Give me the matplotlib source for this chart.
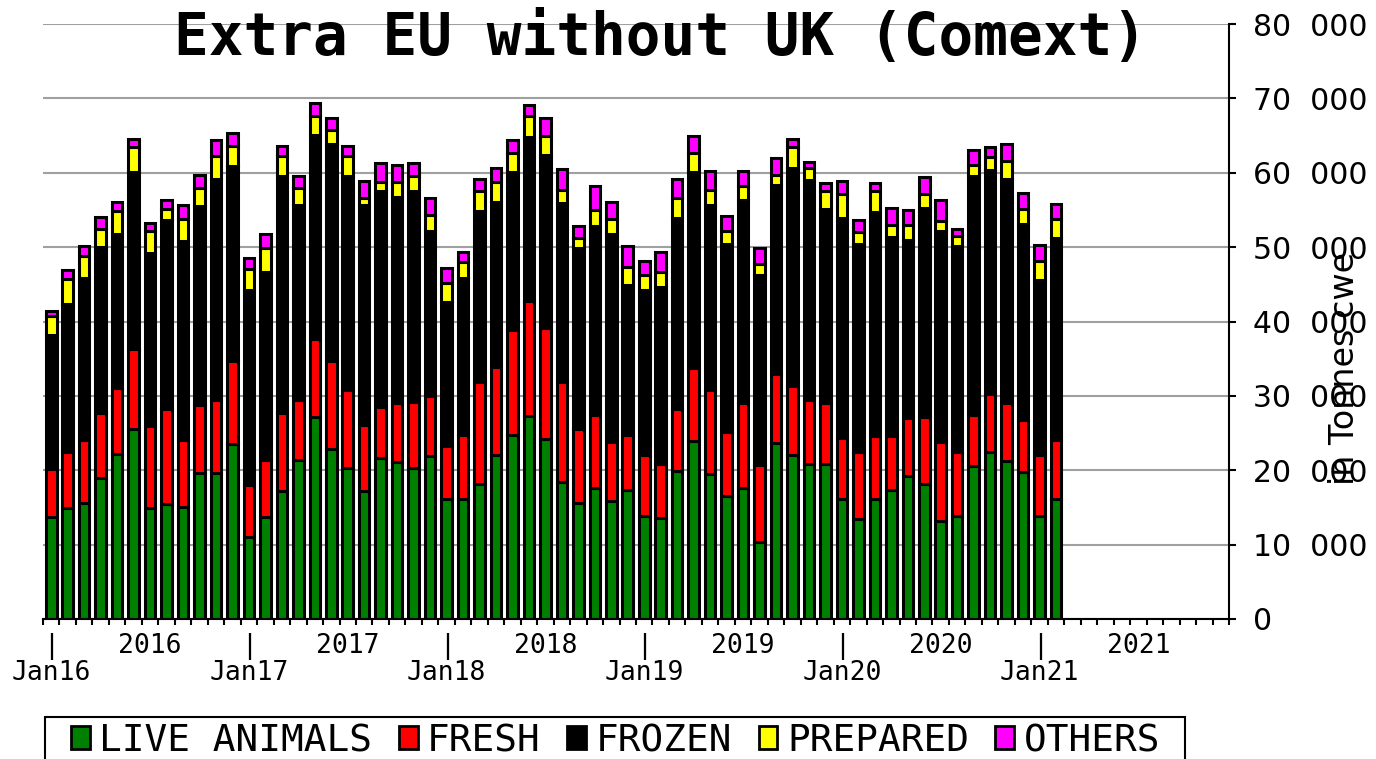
import numpy as np
import matplotlib
matplotlib.use("Agg")
import matplotlib.pyplot as plt
from matplotlib.patches import Rectangle
from matplotlib.ticker import FuncFormatter, MultipleLocator

# Monthly imports, tonnes cwe, Jan16 -> Feb21
live_animals = [13750, 14900, 15600, 19000, 22200, 25500, 14900, 15400, 15100, 19600, 19600, 23500,
                11000, 13750, 17200, 21400, 27200, 22900, 20300, 17200, 21600, 21100, 20300, 21900,
                16100, 16100, 18100, 22000, 24700, 27300, 24200, 18400, 15600, 17600, 15900, 17300,
                13900, 13600, 19900, 23900, 19500, 16500, 17600, 10300, 23600, 22000, 20800, 20800,
                16100, 13500, 16100, 17300, 19200, 18200, 13200, 13900, 20600, 22500, 21200, 19800,
                13900, 16100]
fresh = [6450, 7600, 8500, 8700, 8900, 10800, 11000, 12800, 9000, 9200, 9900, 11200,
         7000, 7650, 10500, 8100, 10400, 11800, 10500, 8900, 6900, 7900, 8900, 8100,
         7200, 8700, 13800, 11900, 14200, 15500, 14900, 13500, 9900, 9800, 7900, 7500,
         8100, 7300, 8300, 9800, 11300, 8600, 11400, 10400, 9300, 9300, 8700, 8200,
         8200, 9000, 8500, 7300, 7800, 9000, 10600, 8600, 6800, 7800, 7800, 6900,
         8100, 8000]
frozen = [18000, 19900, 21700, 22300, 20700, 23800, 23300, 25400, 26700, 26700, 29600, 26200,
          26300, 25200, 31900, 26200, 27500, 29100, 28800, 29600, 29000, 27700, 28300, 22200,
          19300, 21000, 23000, 22200, 21200, 22000, 23300, 24000, 24400, 25400, 27900, 20100,
          22200, 23800, 25700, 26400, 24900, 25300, 27400, 25600, 25400, 29300, 29500, 26100,
          29600, 27900, 30100, 26700, 24000, 28000, 28400, 27700, 32200, 30100, 30100, 26400,
          23600, 27100]
prepared = [2600, 3300, 3000, 2400, 3000, 3300, 3000, 1500, 3000, 2400, 3100, 2700,
            2700, 3300, 2600, 2200, 2500, 1900, 2600, 900, 1300, 2100, 2000, 2100,
            2600, 2200, 2600, 2600, 2500, 2800, 2600, 1800, 1300, 2200, 2100, 2400,
            2000, 2000, 2700, 2600, 2000, 1800, 1800, 1400, 1400, 2800, 1600, 2400,
            3200, 1600, 2800, 1700, 2000, 1900, 1300, 1300, 1400, 1700, 2500, 2000,
            2500, 2600]
others = [600, 1200, 1300, 1600, 1200, 1200, 1000, 1300, 1800, 1800, 2200, 1800,
          1500, 1800, 1400, 1600, 1800, 1600, 1400, 2300, 2500, 2200, 1800, 2300,
          2000, 1300, 1700, 2000, 1800, 1500, 2300, 2800, 1700, 3200, 2200, 2800,
          2000, 2600, 2600, 2200, 2500, 2000, 2000, 2200, 2300, 1200, 900, 1100,
          1800, 1700, 1100, 2200, 2000, 2300, 2800, 900, 2100, 1300, 2200, 2200,
          2200, 2000]

series_names = ["LIVE ANIMALS", "FRESH", "FROZEN", "PREPARED", "OTHERS"]
series_colors = ["#008000", "#ff0000", "#000000", "#ffff00", "#ff00ff"]

years = [2016, 2017, 2018, 2019, 2020, 2021]
jan_labels = ["Jan16", "Jan17", "Jan18", "Jan19", "Jan20", "Jan21"]
n_axis_months = 72

W, H = 1376, 759
fig = plt.figure(figsize=(W / 100, H / 100), dpi=100)
ax = fig.add_axes([43 / W, 1 - 619 / H, (1229 - 43) / W, (619 - 24) / H])

x = np.arange(len(live_animals))
bottom = np.zeros(len(x))
for vals, name, col in zip([live_animals, fresh, frozen, prepared, others], series_names, series_colors):
    ax.bar(x, vals, width=0.64, bottom=bottom, color=col, edgecolor="black",
           linewidth=2.2, label=name, zorder=2)
    bottom = bottom + np.array(vals)

ax.set_xlim(-0.5, n_axis_months - 0.5)
ax.set_ylim(0, 80000)

# y axis on the right
ax.yaxis.tick_right()
ax.yaxis.set_major_locator(MultipleLocator(10000))
ax.yaxis.set_major_formatter(FuncFormatter(lambda v, _: f"{int(v):,}".replace(",", "  ")))
ax.tick_params(axis="y", length=5, width=1.5, pad=12, labelsize=21.5, colors="black")
ax.yaxis.grid(True, color="#a0a0a0", linewidth=1.5)
ax.set_axisbelow(True)

for s in ["left", "top"]:
    ax.spines[s].set_visible(False)
for s in ["right", "bottom"]:
    ax.spines[s].set_linewidth(1.5)
    ax.spines[s].set_color("black")

# month boundary ticks, custom year labels
ax.set_xticks(np.arange(-0.5, n_axis_months, 1))
ax.set_xticklabels([])
ax.tick_params(axis="x", length=4, width=1.5, direction="out")

trans = ax.get_xaxis_transform()
mono = "DejaVu Sans Mono"
for k, (yr, jl) in enumerate(zip(years, jan_labels)):
    ax.text(12 * k, -0.046, "|", transform=trans, ha="center", va="center", fontsize=19, family=mono)
    ax.text(12 * k + 6, -0.046, str(yr), transform=trans, ha="center", va="center", fontsize=19, family=mono)
    ax.text(12 * k, -0.091, jl, transform=trans, ha="center", va="center", fontsize=19, family=mono)

fig.text(661 / W, 1 - 55 / H, "Extra EU without UK (Comext)", ha="center", va="baseline",
         fontsize=41.5, family=mono, fontweight="bold")
fig.text(1345 / W, 1 - 368 / H, "in Tonnes cwe", rotation=90, ha="center", va="center",
         fontsize=24)

handles, labels = ax.get_legend_handles_labels()
leg = fig.legend(handles, labels, loc="center left", bbox_to_anchor=(71 / W, 1 - 741 / H),
                 ncol=5, prop={"family": mono, "size": 27.2}, frameon=False,
                 handlelength=0.5, handleheight=0.55, handletextpad=0.25,
                 columnspacing=0.7, borderpad=0, borderaxespad=0)
for h in leg.legend_handles:
    h.set_linewidth(2)
# legend box, running off the bottom edge as in the source
fig.add_artist(Rectangle((45 / W, -0.05), (1185 - 45) / W, 1 - 717 / H + 0.05,
                         transform=fig.transFigure, fill=False, edgecolor="black", linewidth=1.5))

fig.savefig("out.png", dpi=100)
